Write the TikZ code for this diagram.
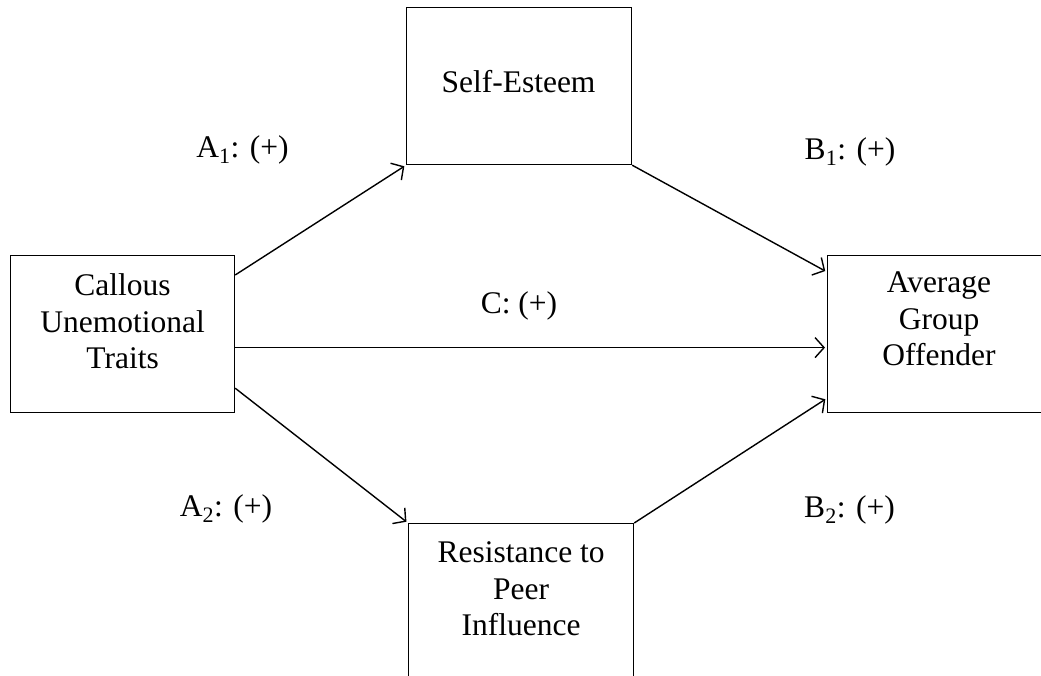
\documentclass[tikz,border=0pt]{standalone}
\usepackage{fontspec}
\setmainfont{Liberation Serif}
\usetikzlibrary{arrows.meta}

\begin{document}
\begin{tikzpicture}[x=1pt, y=-1pt, font=\fontsize{31.5}{36.5}\selectfont,
	box/.style={draw, line width=1.2pt, minimum width=224pt, minimum height=157pt, anchor=north west, inner sep=0pt},
	txt/.style={align=center, inner sep=0pt, anchor=north},
	lbl/.style={inner sep=0pt, anchor=base},
	path/.style={line width=1.4pt, shorten >=2pt, -{Straight Barb[length=9pt,width=20pt,line width=1.4pt]}}]
	\useasboundingbox (0,0) rectangle (1041,676);
	\node[box] (cu) at (10,255) {};
	\node[box, minimum width=225pt] (se) at (406,7) {};
	\node[box, minimum width=213.5pt] (ag) at (827,255) {};
	\node[box, minimum width=225pt] (rp) at (408,523) {};
	\node[txt] (cu-t) at ([yshift=-18.5pt]cu.north) {Callous\\Unemotional\\Traits};
	\node[lbl] (se-t) at (518.5,93) {Self-Esteem};
	\node[txt] (ag-t) at ([yshift=-17pt]939,255) {Average\\Group\\Offender};
	\node[txt] (rp-t) at ([yshift=-18.5pt]rp.north) {Resistance to\\Peer\\Influence};
	\node[lbl] (a1) at (242.5,158) {A\textsubscript{1}: (+)};
	\node[lbl] (b1) at (850,160) {B\textsubscript{1}: (+)};
	\node[lbl] (c) at (519,313) {C: (+)};
	\node[lbl] (a2) at (226,516) {A\textsubscript{2}: (+)};
	\node[lbl] (b2) at (849.5,517) {B\textsubscript{2}: (+)};
	\draw[path] ([yshift=-20pt]cu.north east) -- (se.south west);
	\draw[path] ([yshift=-13.5pt]cu.east) -- ([yshift=-13.5pt]ag.west);
	\draw[path] ([yshift=25pt]cu.south east) -- (rp.north west);
	\draw[path] (se.south east) -- ([yshift=-17pt]ag.north west);
	\draw[path] (rp.north east) -- ([yshift=15pt]ag.south west);
\end{tikzpicture}
\end{document}
